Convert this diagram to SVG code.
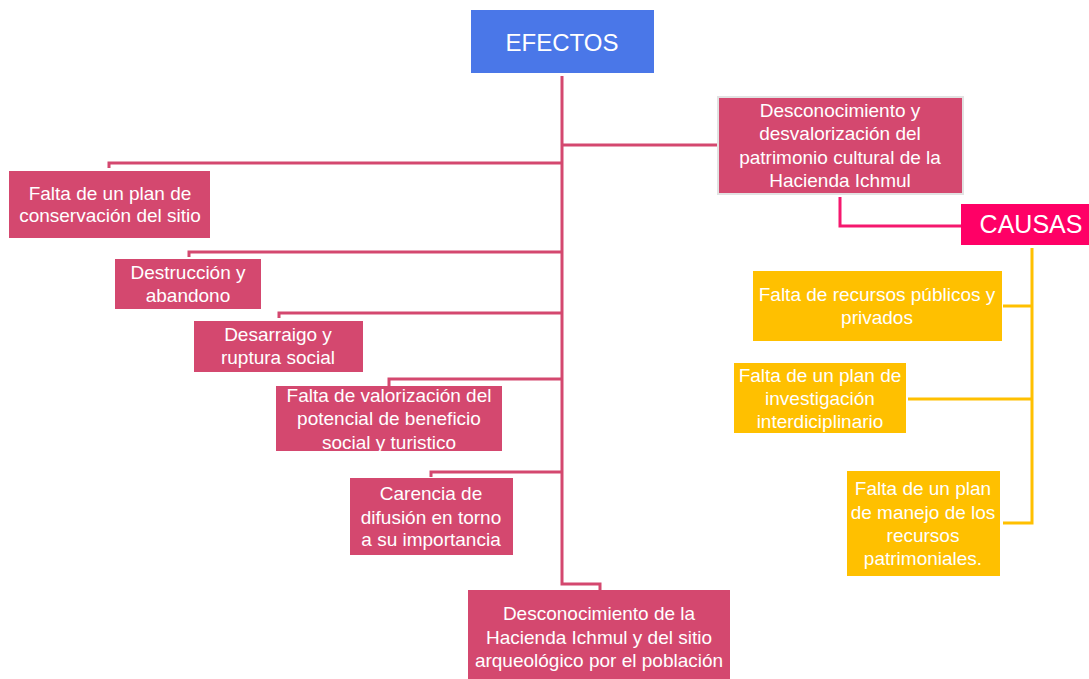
<svg xmlns="http://www.w3.org/2000/svg" width="1089" height="679" viewBox="0 0 1089 679">
<style>
.p{fill:#D4486F}
.y{fill:#FFC000}
.t{font-family:"Liberation Sans",Arial,sans-serif;font-size:19px;fill:#fff;text-anchor:middle}
.big{font-family:"Liberation Sans",Arial,sans-serif;font-size:25px;fill:#fff;text-anchor:middle}
.lp{stroke:#D4486F;stroke-width:3;fill:none}
.ly{stroke:#FFC000;stroke-width:3;fill:none}
.lc{stroke:#F5186E;stroke-width:3;fill:none}
</style>
<rect width="1089" height="679" fill="#fff"/>
<g id="connectors">
<path class="lp" d="M562 76V584H600V590"/>
<path class="lp" d="M562 145H718"/>
<path class="lp" d="M562 163H109V168"/>
<path class="lp" d="M562 252H189V257"/>
<path class="lp" d="M562 313H279V318"/>
<path class="lp" d="M562 379H389V386"/>
<path class="lp" d="M562 472H431V477"/>
<path class="lc" d="M840 197V226H961"/>
<path class="ly" d="M1032 248V523H1003"/>
<path class="ly" d="M1032 306H1003"/>
<path class="ly" d="M1032 399H908"/>
</g>
<g id="efectos">
<rect x="471" y="10" width="183" height="63" fill="#4A77E8"/>
<text class="big" x="562" y="51" style="font-size:24px">EFECTOS</text>
</g>
<g id="desconocimiento-desvalorizacion">
<rect class="p" x="718" y="97" width="245" height="97" stroke="#E2E2E2" stroke-width="2"/>
<text class="t" x="840" y="117">Desconocimiento y</text>
<text class="t" x="840" y="140">desvalorización del</text>
<text class="t" x="840" y="164">patrimonio cultural de la</text>
<text class="t" x="840" y="187">Hacienda Ichmul</text>
</g>
<g id="causas">
<rect x="961" y="204" width="128" height="41" fill="#FF0066"/>
<text class="big" x="1031" y="233">CAUSAS</text>
</g>
<g id="e1">
<rect class="p" x="9" y="171" width="201" height="67"/>
<text class="t" x="110" y="200">Falta de un plan de</text>
<text class="t" x="110" y="222">conservación del sitio</text>
</g>
<g id="e2">
<rect class="p" x="115" y="259" width="146" height="50"/>
<text class="t" x="188" y="279">Destrucción y</text>
<text class="t" x="188" y="302">abandono</text>
</g>
<g id="e3">
<rect class="p" x="194" y="321" width="169" height="51"/>
<text class="t" x="278" y="341">Desarraigo y</text>
<text class="t" x="278" y="364">ruptura social</text>
</g>
<g id="e4">
<rect class="p" x="276" y="386" width="226" height="65"/>
<text class="t" x="389" y="402">Falta de valorización del</text>
<text class="t" x="389" y="425">potencial de beneficio</text>
<text class="t" x="389" y="449">social y turistico</text>
</g>
<g id="e5">
<rect class="p" x="350" y="478" width="163" height="77"/>
<text class="t" x="431" y="500">Carencia de</text>
<text class="t" x="431" y="524">difusión en torno</text>
<text class="t" x="431" y="546">a su importancia</text>
</g>
<g id="e6">
<rect class="p" x="468" y="590" width="262" height="89"/>
<text class="t" x="599" y="620">Desconocimiento de la</text>
<text class="t" x="599" y="644">Hacienda Ichmul y del sitio</text>
<text class="t" x="599" y="667">arqueológico por el población</text>
</g>
<g id="c1">
<rect class="y" x="753" y="271" width="249" height="70"/>
<text class="t" x="877" y="301">Falta de recursos públicos y</text>
<text class="t" x="877" y="324">privados</text>
</g>
<g id="c2">
<rect class="y" x="734" y="363" width="172" height="70"/>
<text class="t" x="820" y="382">Falta de un plan de</text>
<text class="t" x="820" y="405">investigación</text>
<text class="t" x="820" y="428">interdiciplinario</text>
</g>
<g id="c3">
<rect class="y" x="847" y="471" width="153" height="105"/>
<text class="t" x="923" y="495">Falta de un plan</text>
<text class="t" x="923" y="519">de manejo de los</text>
<text class="t" x="923" y="542">recursos</text>
<text class="t" x="923" y="565">patrimoniales.</text>
</g>
</svg>
